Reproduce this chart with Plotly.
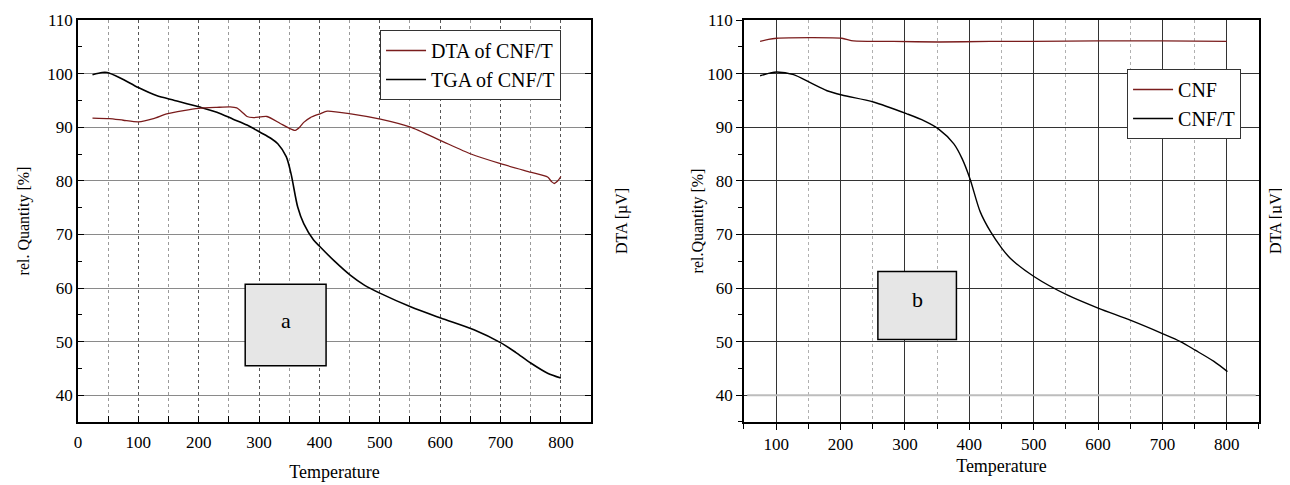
import plotly.graph_objects as go

# ---- Panel a : CNF/T (TGA + DTA) ----
tga_a_temp = [24, 40, 48, 70, 100, 130, 160, 200, 230, 257, 280, 301, 320, 331, 345, 353, 364, 374,
              390, 401, 425, 451, 475, 501, 551, 601, 656, 700, 725, 750, 778, 800]
tga_a_val = [99.8, 100.2, 100.2, 99.2, 97.4, 95.9, 95.0, 93.8, 92.8, 91.5, 90.4, 89.1, 87.9, 86.9,
             84.5, 81.3, 75.1, 72.0, 69.0, 67.7, 65.0, 62.4, 60.5, 59.0, 56.5, 54.4, 52.2, 49.8,
             48.0, 46.0, 44.1, 43.2]

dta_a_temp = [24, 52, 75, 100, 125, 147, 175, 200, 230, 252, 263, 272, 280, 291, 313, 335, 350, 360,
              368, 374, 385, 401, 413, 452, 501, 551, 601, 651, 700, 750, 778, 785, 789, 795, 800]
dta_a_val = [91.7, 91.6, 91.3, 91.0, 91.6, 92.5, 93.1, 93.5, 93.7, 93.8, 93.6, 92.8, 92.0, 91.8,
             92.0, 90.7, 89.8, 89.4, 90.1, 90.9, 91.8, 92.5, 93.0, 92.5, 91.5, 90.0, 87.5, 85.0,
             83.2, 81.6, 80.7, 79.8, 79.5, 80.0, 80.8]

# ---- Panel b : CNF vs CNF/T ----
cnft_b_temp = [75, 90, 101, 127, 153, 179, 202, 251, 303, 330, 352, 376, 389, 401, 417, 433, 450,
               464, 501, 552, 601, 650, 700, 728, 751, 780, 801]
cnft_b_val = [99.6, 100.1, 100.3, 99.8, 98.3, 96.8, 96.0, 94.7, 92.5, 91.2, 89.7, 86.9, 84.1, 80.4,
              74.2, 70.5, 67.5, 65.5, 62.1, 58.7, 56.2, 54.0, 51.5, 50.0, 48.4, 46.3, 44.4]

cnf_b_temp = [75, 88, 101, 153, 202, 220, 282, 352, 432, 500, 600, 700, 800]
cnf_b_val = [106.0, 106.4, 106.6, 106.7, 106.6, 106.1, 106.0, 105.9, 106.0, 106.0, 106.1, 106.1, 106.0]

y_ticks = [40, 50, 60, 70, 80, 90, 100, 110]
x_ticks_a = [0, 100, 200, 300, 400, 500, 600, 700, 800]
x_ticks_b = [100, 200, 300, 400, 500, 600, 700, 800]

FONT = "Liberation Serif"
RED = "#7a1c1c"

fig = go.Figure()

fig.add_trace(go.Scatter(x=dta_a_temp, y=dta_a_val, mode="lines", name="DTA of CNF/T",
                         line=dict(color=RED, width=1.3, shape="spline", smoothing=0.6),
                         xaxis="x", yaxis="y2", legend="legend"))
fig.add_trace(go.Scatter(x=tga_a_temp, y=tga_a_val, mode="lines", name="TGA of CNF/T",
                         line=dict(color="black", width=1.6, shape="spline", smoothing=0.8),
                         xaxis="x", yaxis="y", legend="legend"))
fig.add_trace(go.Scatter(x=cnf_b_temp, y=cnf_b_val, mode="lines", name="CNF",
                         line=dict(color=RED, width=1.3, shape="spline", smoothing=0.6),
                         xaxis="x2", yaxis="y4", legend="legend2"))
fig.add_trace(go.Scatter(x=cnft_b_temp, y=cnft_b_val, mode="lines", name="CNF/T",
                         line=dict(color="black", width=1.4, shape="spline", smoothing=0.8),
                         xaxis="x2", yaxis="y3", legend="legend2"))

tickfont = dict(family=FONT, size=17, color="black")
titlefont = dict(family=FONT, size=18, color="black")
ytitlefont = dict(family=FONT, size=16, color="black")
ydom = [0.1321, 0.9748]

fig.update_layout(
    width=1282, height=477,
    margin=dict(l=0, r=0, t=0, b=0, autoexpand=False),
    paper_bgcolor="white", plot_bgcolor="white",
    font=dict(family=FONT, color="black"),
    xaxis=dict(domain=[0.0546, 0.4548], range=[0, 850], tickvals=x_ticks_a,
               ticks="inside", ticklen=6, tickcolor="black", tickfont=tickfont,
               ticklabelstandoff=4,
               minor=dict(dtick=50, tick0=0, ticks="inside", ticklen=6, tickcolor="black",
                          showgrid=True, gridcolor="#9a9a9a", griddash="dot", gridwidth=1),
               showgrid=True, gridcolor="#555555", griddash="dot", gridwidth=1,
               showline=True, linecolor="black", linewidth=2, mirror=True,
               title=dict(text="Temperature", font=titlefont, standoff=14),
               zeroline=False, anchor="y", automargin=False),
    yaxis=dict(domain=ydom, range=[35, 110], tickvals=y_ticks,
               ticks="inside", ticklen=6, tickcolor="black", tickfont=tickfont,
               minor=dict(dtick=5, tick0=0, ticks="inside", ticklen=4, tickcolor="black", showgrid=False),
               showgrid=True, gridcolor="#8a8a8a", gridwidth=1.2,
               showline=True, linecolor="black", linewidth=1.5, mirror=False,
               title=dict(text="rel. Quantity [%]", font=ytitlefont, standoff=14),
               zeroline=False, anchor="x", automargin=False),
    yaxis2=dict(range=[35, 110], overlaying="y", side="right", anchor="x",
                tickvals=y_ticks, ticks="inside", ticklen=6, tickcolor="black",
                showticklabels=False, showgrid=False, zeroline=False,
                showline=True, linecolor="black", linewidth=1.5,
                title=dict(text="DTA [µV]", font=ytitlefont, standoff=24), automargin=False),
    xaxis2=dict(domain=[0.5741, 0.9758], range=[50, 850], tickvals=x_ticks_b,
                ticks="outside", ticklen=6, tickcolor="black", tickfont=tickfont,
                minor=dict(dtick=50, tick0=0, ticks="outside", ticklen=5, tickcolor="black",
                           showgrid=True, gridcolor="#b0b0b0", griddash="dot", gridwidth=1),
                showgrid=True, gridcolor="#333333", gridwidth=1.2,
                showline=True, linecolor="black", linewidth=2, mirror=True,
                title=dict(text="Temperature", font=titlefont, standoff=6),
                zeroline=False, anchor="y3", automargin=False),
    yaxis3=dict(domain=ydom, range=[35, 110], tickvals=y_ticks,
                ticks="outside", ticklen=6, tickcolor="black", tickfont=tickfont,
                minor=dict(dtick=5, tick0=0, ticks="outside", ticklen=4, tickcolor="black", showgrid=False),
                showgrid=True, gridcolor="#333333", gridwidth=1.2,
                showline=True, linecolor="black", linewidth=1.5,
                title=dict(text="rel.Quantity [%]", font=ytitlefont, standoff=0),
                zeroline=False, anchor="x2", automargin=False),
    yaxis4=dict(range=[35, 110], overlaying="y3", side="right", anchor="x2",
                showticklabels=False, ticks="", showgrid=False, zeroline=False,
                showline=True, linecolor="black", linewidth=1.5,
                title=dict(text="DTA [µV]", font=ytitlefont, standoff=10), automargin=False),
    legend=dict(x=0.2902, y=0.9539, xanchor="left", yanchor="top",
                bgcolor="white", bordercolor="#333333", borderwidth=1,
                font=dict(family=FONT, size=20, color="black"),
                tracegroupgap=0, itemwidth=40),
    legend2=dict(x=0.8729, y=0.8721, xanchor="left", yanchor="top",
                 bgcolor="white", bordercolor="#333333", borderwidth=1,
                 font=dict(family=FONT, size=20, color="black"),
                 tracegroupgap=0, itemwidth=40),
    showlegend=True,
)

# label boxes "a" and "b"
fig.add_shape(type="rect", xref="x", yref="y", x0=277, x1=411, y0=45.5, y1=60.7,
              fillcolor="#e6e6e6", line=dict(color="black", width=1.5), layer="above")
fig.add_annotation(x=344, y=54.0, xref="x", yref="y", text="a", showarrow=False,
                   font=dict(family=FONT, size=22, color="black"))
fig.add_shape(type="rect", xref="x2", yref="y3", x0=258, x1=380, y0=50.4, y1=63.1,
              fillcolor="#e6e6e6", line=dict(color="black", width=1.5), layer="above")
fig.add_annotation(x=319, y=57.8, xref="x2", yref="y3", text="b", showarrow=False,
                   font=dict(family=FONT, size=22, color="black"))

# light grey baseline at 40 in panel b
fig.add_shape(type="line", xref="x2", yref="y3", x0=55, x1=845, y0=40, y1=40,
              line=dict(color="#bdbdbd", width=2), layer="between")

fig.write_html("out.html")
